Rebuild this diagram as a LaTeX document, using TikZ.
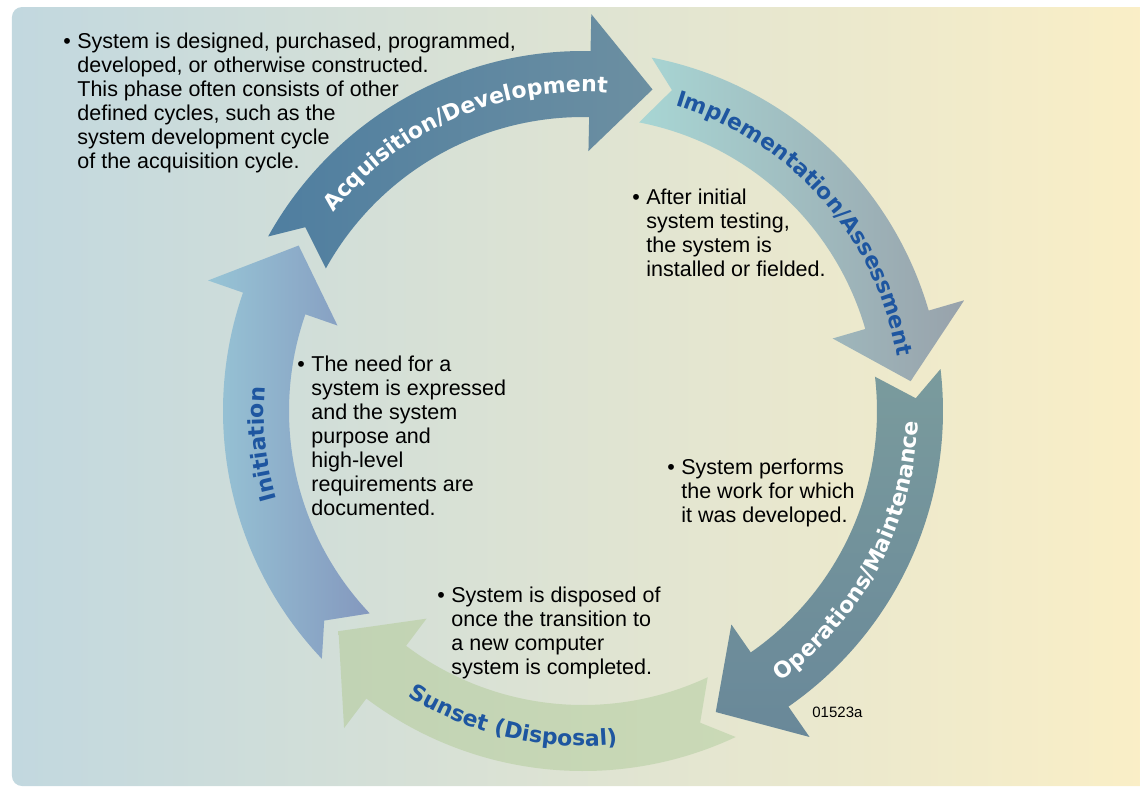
\documentclass[tikz,border=0pt]{standalone}
\usepackage{fontspec}
\setmainfont{Liberation Sans}
\newfontfamily\labelfont{DejaVu Sans}
\usetikzlibrary{decorations.text}
\definecolor{bgL}{HTML}{C2D8DF}
\definecolor{bgM}{HTML}{E4E9D6}
\definecolor{bgR}{HTML}{FBEFC6}
\definecolor{lblue}{HTML}{1E56A0}
\definecolor{initA}{HTML}{98C7D7}
\definecolor{initB}{HTML}{8498BE}
\definecolor{acqA}{HTML}{4F7EA0}
\definecolor{acqB}{HTML}{6C8FA1}
\definecolor{impA}{HTML}{A8D6D4}
\definecolor{impB}{HTML}{98A2AB}
\definecolor{opsA}{HTML}{7A9B9D}
\definecolor{opsB}{HTML}{698899}
\definecolor{sunA}{HTML}{C1D3B4}
\definecolor{sunB}{HTML}{CAD9B6}
\def\ro{360}
\def\ri{294}
\def\rn{333}
\def\rt{329}
\def\wo{397}
\def\wi{260}
% #1 tail angle, #2 tip angle, #3 shading options
\newcommand{\phasearrow}[3]{%
  \pgfmathsetmacro\hA{#2+11}%
  \pgfmathsetmacro\nA{#1-4.5}%
  \shade[#3] (#1:\ro) arc[start angle=#1, end angle=\hA, radius=\ro]
    -- (\hA:\wo) -- (#2:\rt) -- (\hA:\wi) -- (\hA:\ri)
    arc[start angle=\hA, end angle=#1, radius=\ri] -- (\nA:\rn) -- cycle;
}
\newcommand{\bul}{\makebox[7pt][l]{\textbullet}}
\newcommand{\lblfmt}{\labelfont\bfseries\fontsize{11}{13}\selectfont}
\begin{document}
\begin{tikzpicture}[x=0.5pt,y=0.5pt,
  txt/.style={inner sep=0pt, anchor=base west, font=\fontsize{10.75}{12}\selectfont},
  cwlabel/.style={decorate, decoration={text along path, text align=center, text color=#1}},
  ]
\useasboundingbox (-583,-378) rectangle (557,411);
% background
\shade[left color=bgL, middle color=bgM, right color=bgR, rounded corners=5pt]
  (-571,404) rectangle (580,-375);

% phase arrows
\phasearrow{223.5}{149.8}{left color=initA, right color=initB}
\phasearrow{151}{77.8}{left color=acqA, right color=acqB}
\phasearrow{79}{5.2}{left color=impA, right color=impB}
\phasearrow{6.7}{-66.2}{top color=opsA, bottom color=opsB}
\phasearrow{-64.9}{-138}{left color=sunA, right color=sunB}

% labels along arcs
\path[decorate, decoration={text along path, text align=center, text color=lblue,
  text={|\lblfmt|Initiation}}]
  (225.9:319) arc[start angle=225.9, end angle=145.9, radius=319];
\path[decorate, decoration={text along path, text align=center, text color=white,
  text={|\lblfmt|Acquisition/Development}}]
  (163.6:319) arc[start angle=163.6, end angle=63.6, radius=319];
\path[decorate, decoration={text along path, text align=center, text color=lblue,
  text={|\lblfmt|Implementation/Assessment}}]
  (91.5:319) arc[start angle=91.5, end angle=-8.5, radius=319];
\path[decorate, decoration={text along path, text align=center, text color=white,
  text={|\lblfmt|Operations/Maintenance}}]
  (-77.8:335) arc[start angle=-77.8, end angle=22.2, radius=335];
\path[decorate, decoration={text along path, text align=center, text color=lblue,
  text={|\lblfmt|Sunset (Disposal)}}]
  (-147.8:335) arc[start angle=-147.8, end angle=-57.8, radius=335];

% descriptions
\node[txt] (acqtext) at (-520,362.5) {\begin{tabular}[t]{@{}l@{}l@{}}
\bul & System is designed, purchased, programmed,\\
 & developed, or otherwise constructed.\\
 & This phase often consists of other\\
 & defined cycles, such as the\\
 & system development cycle\\
 & of the acquisition cycle.
\end{tabular}};
\node[txt] (imptext) at (49,207) {\begin{tabular}[t]{@{}l@{}l@{}}
\bul & After initial\\
 & system testing,\\
 & the system is\\
 & installed or fielded.
\end{tabular}};
\node[txt] (inittext) at (-286,40) {\begin{tabular}[t]{@{}l@{}l@{}}
\bul & The need for a\\
 & system is expressed\\
 & and the system\\
 & purpose and\\
 & high-level\\
 & requirements are\\
 & documented.
\end{tabular}};
\node[txt] (opstext) at (84,-63) {\begin{tabular}[t]{@{}l@{}l@{}}
\bul & System performs\\
 & the work for which\\
 & it was developed.
\end{tabular}};
\node[txt] (suntext) at (-146,-191) {\begin{tabular}[t]{@{}l@{}l@{}}
\bul & System is disposed of\\
 & once the transition to\\
 & a new computer\\
 & system is completed.
\end{tabular}};
\node[inner sep=0pt, anchor=base west, font=\fontsize{7.5}{9}\selectfont] (code) at (229,-306) {01523a};
\end{tikzpicture}
\end{document}
